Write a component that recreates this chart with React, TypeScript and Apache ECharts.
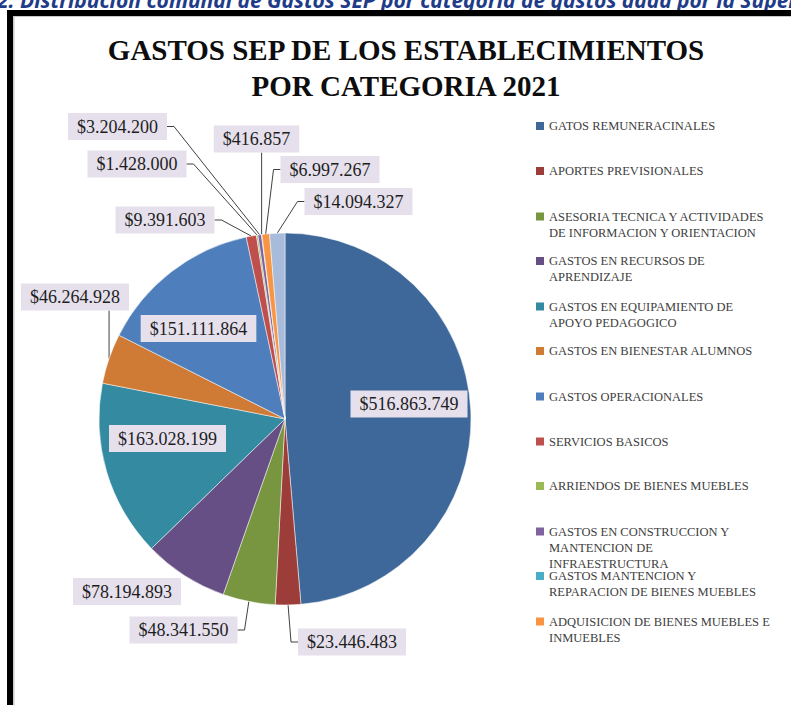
import React, { useEffect, useRef } from 'react';
import * as echarts from 'echarts';

// ---------- data ----------
const categories: string[] = [
  'GATOS REMUNERACINALES',
  'APORTES PREVISIONALES',
  'ASESORIA TECNICA Y ACTIVIDADES DE INFORMACION Y ORIENTACION',
  'GASTOS EN RECURSOS DE APRENDIZAJE',
  'GASTOS EN EQUIPAMIENTO DE APOYO PEDAGOGICO',
  'GASTOS EN BIENESTAR ALUMNOS',
  'GASTOS OPERACIONALES',
  'SERVICIOS BASICOS',
  'ARRIENDOS DE BIENES MUEBLES',
  'GASTOS EN CONSTRUCCION Y MANTENCION DE INFRAESTRUCTURA',
  'GASTOS MANTENCION Y REPARACION DE BIENES MUEBLES',
  'ADQUISICION DE BIENES MUEBLES E INMUEBLES',
  'OTROS GASTOS',
];

const legendLabels: string[] = [
  'GATOS REMUNERACINALES',
  'APORTES PREVISIONALES',
  'ASESORIA TECNICA Y ACTIVIDADES\nDE INFORMACION Y ORIENTACION',
  'GASTOS EN RECURSOS DE\nAPRENDIZAJE',
  'GASTOS EN EQUIPAMIENTO DE\nAPOYO PEDAGOGICO',
  'GASTOS EN BIENESTAR ALUMNOS',
  'GASTOS OPERACIONALES',
  'SERVICIOS BASICOS',
  'ARRIENDOS DE BIENES MUEBLES',
  'GASTOS EN CONSTRUCCION Y\nMANTENCION DE\nINFRAESTRUCTURA',
  'GASTOS MANTENCION Y\nREPARACION DE BIENES MUEBLES',
  'ADQUISICION DE BIENES MUEBLES E\nINMUEBLES',
];

const values: number[] = [
  516863749, 23446483, 48341550, 78194893, 163028199, 46264928, 151111864,
  9391603, 1428000, 3204200, 416857, 6997267, 14094327,
];

const colors: string[] = [
  '#3D6899', '#9C3D3A', '#789640', '#664F85', '#348AA0', '#D07B35', '#4E7FBC',
  '#BF4F4C', '#9ABA58', '#7F63A1', '#4AACC5', '#F79545', '#A8BBDA',
];

// ---------- layout (positions kept apart from the data) ----------
const CX = 285;
const CY = 419;
const R = 186;

const labelCenters: number[][] = [
  [409, 404], [352, 642], [183.5, 630], [127, 591.5], [167.5, 438.5],
  [75, 297], [198.5, 328.5], [165, 220], [137, 164], [117.5, 126.5],
  [256.5, 139], [330, 169.5], [358.5, 201.5],
];
const labelSides: string[] = [
  'none', 'left', 'right', 'none', 'none', 'bottom', 'none',
  'right', 'right', 'right', 'bottom', 'left', 'left',
];

const legendCenters: number[] = [126, 171, 216.5, 261, 306.5, 351, 396.5, 441.5, 486, 531.5, 576, 621.5];
const LH = 16;

const fmt = (v: number) => '$' + String(v).replace(/\B(?=(\d{3})+(?!\d))/g, '.');

export default function App() {
  const ref = useRef<HTMLDivElement>(null);

  useEffect(() => {
    if (!ref.current) return;
    const chart = echarts.init(ref.current, undefined, { renderer: 'svg' });
    const total = values.reduce((a, b) => a + b, 0);

    const legends = legendLabels.map((lab, i) => {
      const n = lab.split('\n').length;
      const H = 8 + (n - 1) * LH;
      return {
        show: true,
        orient: 'vertical',
        left: 536,
        top: legendCenters[i] - LH / 2,
        padding: 0,
        itemWidth: 8,
        itemHeight: H,
        itemGap: 0,
        selectedMode: false,
        icon: n === 1 ? 'rect' : `path://M0,0L8,0L8,8L0,8Z M0,${H}L8,${H}`,
        data: [categories[i]],
        formatter: (name: string) => legendLabels[categories.indexOf(name)],
        itemStyle: { borderWidth: 0 },
        textStyle: {
          fontFamily: 'Liberation Serif',
          fontSize: 12.5,
          lineHeight: LH,
          color: '#404040',
        },
      };
    });

    const option: any = {
      animation: false,
      backgroundColor: '#ffffff',
      title: {
        text: 'GASTOS SEP DE LOS ESTABLECIMIENTOS\nPOR CATEGORIA 2021',
        left: 406,
        top: 32,
        textAlign: 'center',
        padding: 0,
        textStyle: {
          fontFamily: 'Liberation Serif',
          fontWeight: 'bold',
          fontSize: 29,
          lineHeight: 36,
          color: '#0d0d0d',
        },
      },
      legend: legends,
      graphic: [
        {
          type: 'text',
          x: -3,
          y: 0,
          style: {
            text: '2. Distribución comunal de Gastos SEP por categoría de gastos dada por la Superintendencia',
            fontFamily: 'Noto Sans',
            fontStyle: 'italic',
            fontWeight: 'bold',
            fontSize: 21,
            fill: '#1F3C88',
            verticalAlign: 'middle',
          },
        },
        { type: 'rect', shape: { x: 7, y: 10, width: 6, height: 700 }, style: { fill: '#000' } },
        { type: 'rect', shape: { x: 7, y: 10, width: 800, height: 6 }, style: { fill: '#000' } },
        { type: 'rect', shape: { x: 13, y: 16, width: 1.5, height: 700 }, style: { fill: '#c8c8c8' } },
        { type: 'rect', shape: { x: 13, y: 16, width: 800, height: 1 }, style: { fill: '#c8c8c8' } },
      ],
      series: [
        {
          type: 'pie',
          center: [CX, CY],
          radius: R,
          startAngle: 90,
          clockwise: true,
          avoidLabelOverlap: false,
          minShowLabelAngle: 0,
          itemStyle: { borderColor: '#ffffff', borderWidth: 0.5 },
          emphasis: { disabled: true },
          label: {
            show: true,
            position: 'outside',
            formatter: (p: any) => fmt(p.value),
            fontFamily: 'Liberation Serif',
            fontSize: 18,
            lineHeight: 19,
            color: '#1e1e1e',
            backgroundColor: '#E5E0EC',
            padding: [4, 9],
          },
          labelLine: {
            show: true,
            length: 10,
            length2: 7,
            smooth: false,
            lineStyle: { color: '#404040', width: 1 },
          },
          labelLayout: (p: any) => {
            const i = p.dataIndex;
            const [x, y] = labelCenters[i];
            const w = p.labelRect.width;
            const h = p.labelRect.height;
            const out: any = { x, y, align: 'center', verticalAlign: 'middle' };
            const side = labelSides[i];
            if (side !== 'none') {
              const before = values.slice(0, i).reduce((a, b) => a + b, 0);
              const th = ((before + values[i] / 2) / total) * Math.PI * 2;
              const ax = CX + R * Math.sin(th);
              const ay = CY - R * Math.cos(th);
              if (side === 'right') out.labelLinePoints = [[ax, ay], [x + w / 2 + 7, y], [x + w / 2, y]];
              else if (side === 'left') out.labelLinePoints = [[ax, ay], [x - w / 2 - 7, y], [x - w / 2, y]];
              else out.labelLinePoints = [[ax, ay], [ax, y + h / 2], [ax, y + h / 2]];
            }
            return out;
          },
          data: values.map((v, i) => ({
            value: v,
            name: categories[i],
            itemStyle: { color: colors[i] },
            labelLine: { show: labelSides[i] !== 'none' },
          })),
        },
      ],
    };

    chart.setOption(option);
    return () => chart.dispose();
  }, []);

  return (
    <div
      ref={ref}
      style={{ position: 'absolute', left: 0, top: 0, width: 791, height: 705 }}
    />
  );
}
